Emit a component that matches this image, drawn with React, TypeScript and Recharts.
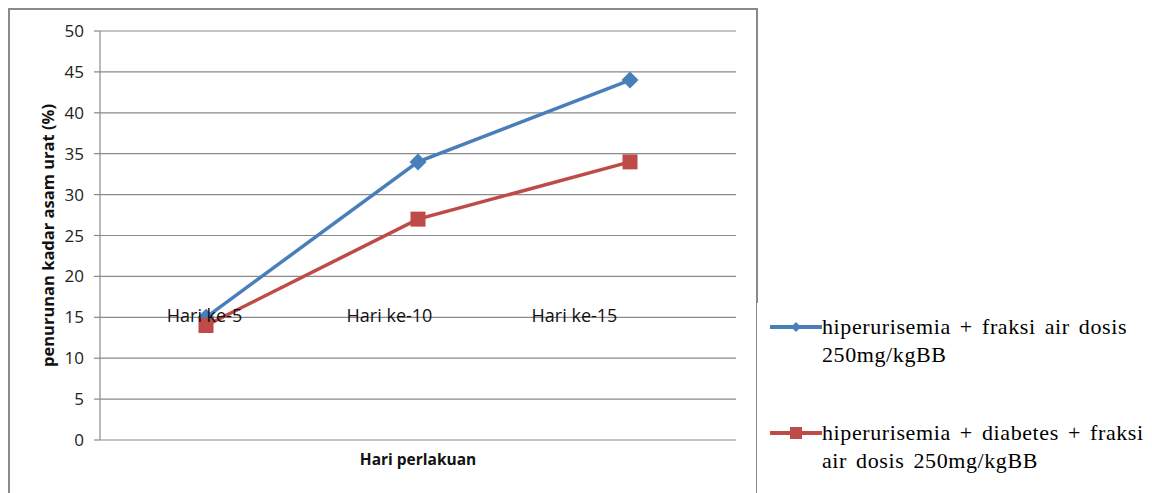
import React from 'react';
import { LineChart, Line, XAxis, YAxis, CartesianGrid, ReferenceDot, Legend } from 'recharts';

// Treatment days (categories)
const days = ['Hari ke-5', 'Hari ke-10', 'Hari ke-15'];
// Decrease in uric acid level (%)
const hiperurisemia = [15, 34, 44];
const hiperurisemiaDiabetes = [14, 27, 34];
const yTicks = [0, 5, 10, 15, 20, 25, 30, 35, 40, 45, 50];
// Value at which the category labels sit
const categoryLabelLevel = 15;

const seriesA = ['hiperurisemia + fraksi air dosis', '250mg/kgBB'];
const seriesB = ['hiperurisemia + diabetes + fraksi', 'air dosis 250mg/kgBB'];

const BLUE = '#4A7EBB';
const RED = '#BE4B48';
const GRID = '#8A8A8A';
const SANS = '"Open Sans", "Noto Sans", sans-serif';

const data = days.map((day, i) => ({
  day,
  a: hiperurisemia[i],
  b: hiperurisemiaDiabetes[i],
}));

const Diamond = (props: any) => {
  const { cx, cy, index } = props;
  if (cx == null || cy == null) return <g key={`d-${index}`} />;
  const s = 8.5;
  return (
    <polygon
      key={`d-${index}`}
      points={`${cx},${cy - s} ${cx + s},${cy} ${cx},${cy + s} ${cx - s},${cy}`}
      fill={BLUE}
    />
  );
};

const Square = (props: any) => {
  const { cx, cy, index } = props;
  if (cx == null || cy == null) return <g key={`s-${index}`} />;
  const s = 7.5;
  return <rect key={`s-${index}`} x={cx - s} y={cy - s} width={s * 2} height={s * 2} fill={RED} />;
};

const LegendIcon = ({ color, marker }: { color: string; marker: 'diamond' | 'square' }) => (
  <svg width={52} height={28} style={{ flex: 'none' }}>
    <line x1={0} y1={14} x2={52} y2={14} stroke={color} strokeWidth={4} />
    {marker === 'diamond' ? (
      <polygon points="26,9 31,14 26,19 21,14" fill={color} />
    ) : (
      <rect x={20} y={8} width={12} height={12} fill={color} />
    )}
  </svg>
);

const renderLegend = () => {
  const items = [
    { lines: seriesA, color: BLUE, marker: 'diamond' as const },
    { lines: seriesB, color: RED, marker: 'square' as const },
  ];
  return (
    <div
      style={{
        background: '#fff',
        width: 395,
        height: 200,
        boxSizing: 'border-box',
        padding: '10px 0 0 13px',
        fontFamily: '"Liberation Serif", "Times New Roman", serif',
        fontSize: 22,
        lineHeight: '28px',
        letterSpacing: '0.6px',
        wordSpacing: '3px',
        color: '#000',
      }}
    >
      {items.map((it, i) => (
        <div key={i} style={{ display: 'flex', alignItems: 'flex-start', marginBottom: 50 }}>
          <LegendIcon color={it.color} marker={it.marker} />
          <div style={{ whiteSpace: 'nowrap' }}>
            {it.lines.map((l, j) => (
              <div key={j}>{l}</div>
            ))}
          </div>
        </div>
      ))}
    </div>
  );
};

export default function App() {
  return (
    <div style={{ position: 'relative', width: 1144, height: 485, overflow: 'hidden', background: '#fff' }}>
      <div
        style={{
          position: 'absolute',
          left: 0,
          top: 0,
          width: 750,
          height: 540,
          boxSizing: 'border-box',
          border: `2px solid ${GRID}`,
        }}
      />
      <div style={{ position: 'absolute', left: 0, top: 0 }}>
        <LineChart
          width={1144}
          height={485}
          data={data}
          margin={{ top: 23, right: 416, bottom: 15, left: 8 }}
        >
          <CartesianGrid vertical={false} stroke={GRID} strokeWidth={1.2} />
          <XAxis
            dataKey="day"
            scale="band"
            tick={false}
            tickLine={false}
            axisLine={false}
            height={38}
            label={{
              content: (p: any) => {
                const vb = p.viewBox || {};
                const cx = vb.x + vb.width / 2;
                const cy = vb.y + vb.height / 2;
                return (
                  <text
                    x={cx}
                    y={cy}
                    textAnchor="middle"
                    dominantBaseline="central"
                    fontFamily={SANS}
                    fontSize={15.5}
                    fontWeight={700}
                    fill="#111"
                  >
                    Hari perlakuan
                  </text>
                );
              },
            }}
          />
          {/* category labels sit on a narrower band than the plotted points */}
          <XAxis
            xAxisId="labels"
            dataKey="day"
            scale="band"
            hide
            padding={{ left: 12, right: 69 }}
          />
          <YAxis
            domain={[0, 50]}
            ticks={yTicks}
            interval={0}
            width={84}
            tickSize={6}
            tickMargin={10}
            stroke={GRID}
            tick={{ fill: '#222', fontSize: 17, fontFamily: SANS }}
            axisLine={{ stroke: GRID, strokeWidth: 1.2 }}
            tickLine={{ stroke: GRID, strokeWidth: 1.2 }}
            label={{
              content: (p: any) => {
                const vb = p.viewBox || {};
                const cx = vb.x + 31;
                const cy = vb.y + vb.height / 2;
                return (
                  <text
                    x={cx}
                    y={cy}
                    transform={`rotate(-90 ${cx} ${cy})`}
                    textAnchor="middle"
                    dominantBaseline="central"
                    fontFamily={SANS}
                    fontSize={16.5}
                    fontWeight={700}
                    fill="#111"
                  >
                    penurunan kadar asam urat (%)
                  </text>
                );
              },
            }}
          />
          {days.map((d) => (
            <ReferenceDot
              key={d}
              xAxisId="labels"
              x={d}
              y={categoryLabelLevel}
              r={0}
              fill="none"
              stroke="none"
              label={{
                value: d,
                position: 'center',
                fill: '#111',
                fontSize: 18,
                fontFamily: SANS,
                dy: -2,
              }}
            />
          ))}
          <Line
            type="linear"
            dataKey="a"
            name={seriesA.join(' ')}
            stroke={BLUE}
            strokeWidth={3.5}
            dot={Diamond}
            activeDot={false}
            isAnimationActive={false}
          />
          <Line
            type="linear"
            dataKey="b"
            name={seriesB.join(' ')}
            stroke={RED}
            strokeWidth={3.5}
            dot={Square}
            activeDot={false}
            isAnimationActive={false}
          />
          <Legend
            layout="vertical"
            align="center"
            verticalAlign="middle"
            content={renderLegend}
            wrapperStyle={{ left: 749, top: 295, width: 395, height: 200 }}
          />
        </LineChart>
      </div>
    </div>
  );
}
